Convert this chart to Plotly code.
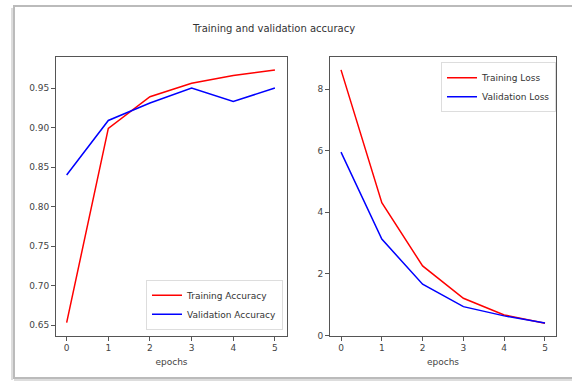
import plotly.graph_objects as go

epochs = [0, 1, 2, 3, 4, 5]
train_acc = [0.653, 0.899, 0.939, 0.956, 0.966, 0.973]
val_acc = [0.840, 0.909, 0.931, 0.950, 0.933, 0.950]
train_loss = [8.62, 4.31, 2.26, 1.21, 0.67, 0.40]
val_loss = [5.95, 3.13, 1.67, 0.94, 0.64, 0.41]

W, H = 572, 387
def px(x): return x / W
def py(y): return 1 - y / H

fig = go.Figure()
fig.add_trace(go.Scatter(x=epochs, y=train_acc, mode="lines", name="Training Accuracy",
                         line=dict(color="#ff0000", width=1.5), xaxis="x", yaxis="y", legend="legend"))
fig.add_trace(go.Scatter(x=epochs, y=val_acc, mode="lines", name="Validation Accuracy",
                         line=dict(color="#0000ff", width=1.5), xaxis="x", yaxis="y", legend="legend"))
fig.add_trace(go.Scatter(x=epochs, y=train_loss, mode="lines", name="Training Loss",
                         line=dict(color="#ff0000", width=1.5), xaxis="x2", yaxis="y2", legend="legend2"))
fig.add_trace(go.Scatter(x=epochs, y=val_loss, mode="lines", name="Validation Loss",
                         line=dict(color="#0000ff", width=1.5), xaxis="x2", yaxis="y2", legend="legend2"))

axcommon = dict(showgrid=False, zeroline=False, showline=True, linecolor="#555555", linewidth=1,
                mirror=True, ticks="outside", ticklen=4, tickcolor="#555555",
                tickfont=dict(family="DejaVu Sans", size=9, color="#444444"))

fig.update_layout(
    width=W, height=H, margin=dict(l=0, r=0, t=0, b=0),
    paper_bgcolor="white", plot_bgcolor="white",
    font=dict(family="DejaVu Sans", size=9, color="#444444"),
    title=dict(text="Training and validation accuracy", x=px(274), xanchor="center",
               y=py(28), yanchor="middle", font=dict(size=10, color="#333333")),
    xaxis=dict(domain=[px(56), px(287)], range=[-0.256, 5.29], dtick=1, anchor="y",
               title=dict(text="epochs", standoff=6, font=dict(size=9)), **axcommon),
    yaxis=dict(domain=[py(340), py(58)], range=[0.6366, 0.989], dtick=0.05, tickformat=".2f",
               anchor="x", **axcommon),
    xaxis2=dict(domain=[px(330), px(556)], range=[-0.27, 5.27], dtick=1, anchor="y2",
                title=dict(text="epochs", standoff=6, font=dict(size=9)), **axcommon),
    yaxis2=dict(domain=[py(340), py(58)], range=[0.0, 9.03], dtick=2, anchor="x2", **axcommon),
    legend=dict(x=px(283), xanchor="right", y=py(334), yanchor="bottom",
                bgcolor="rgba(255,255,255,0.8)", bordercolor="#dddddd", borderwidth=1,
                font=dict(size=9, color="#333333"), tracegroupgap=0, itemwidth=30),
    legend2=dict(x=px(556), xanchor="right", y=py(63), yanchor="top",
                 bgcolor="rgba(255,255,255,0.8)", bordercolor="#dddddd", borderwidth=1,
                 font=dict(size=9, color="#333333"), tracegroupgap=0, itemwidth=30),
    showlegend=True,
    shapes=[
        dict(type="rect", xref="paper", yref="paper", x0=px(14), x1=1.05, y0=py(383), y1=py(6),
             line=dict(color="#bbbbbb", width=2), layer="below"),
        dict(type="line", xref="paper", yref="paper", x0=px(12), x1=px(12), y0=py(385), y1=py(8),
             line=dict(color="#dddddd", width=2), layer="below"),
        dict(type="line", xref="paper", yref="paper", x0=px(14), x1=1.05, y0=py(385), y1=py(385),
             line=dict(color="#dddddd", width=2), layer="below"),
    ],
)

fig.write_html("out.html", config={"displayModeBar": False},
               post_script="document.body.style.margin='0';")
